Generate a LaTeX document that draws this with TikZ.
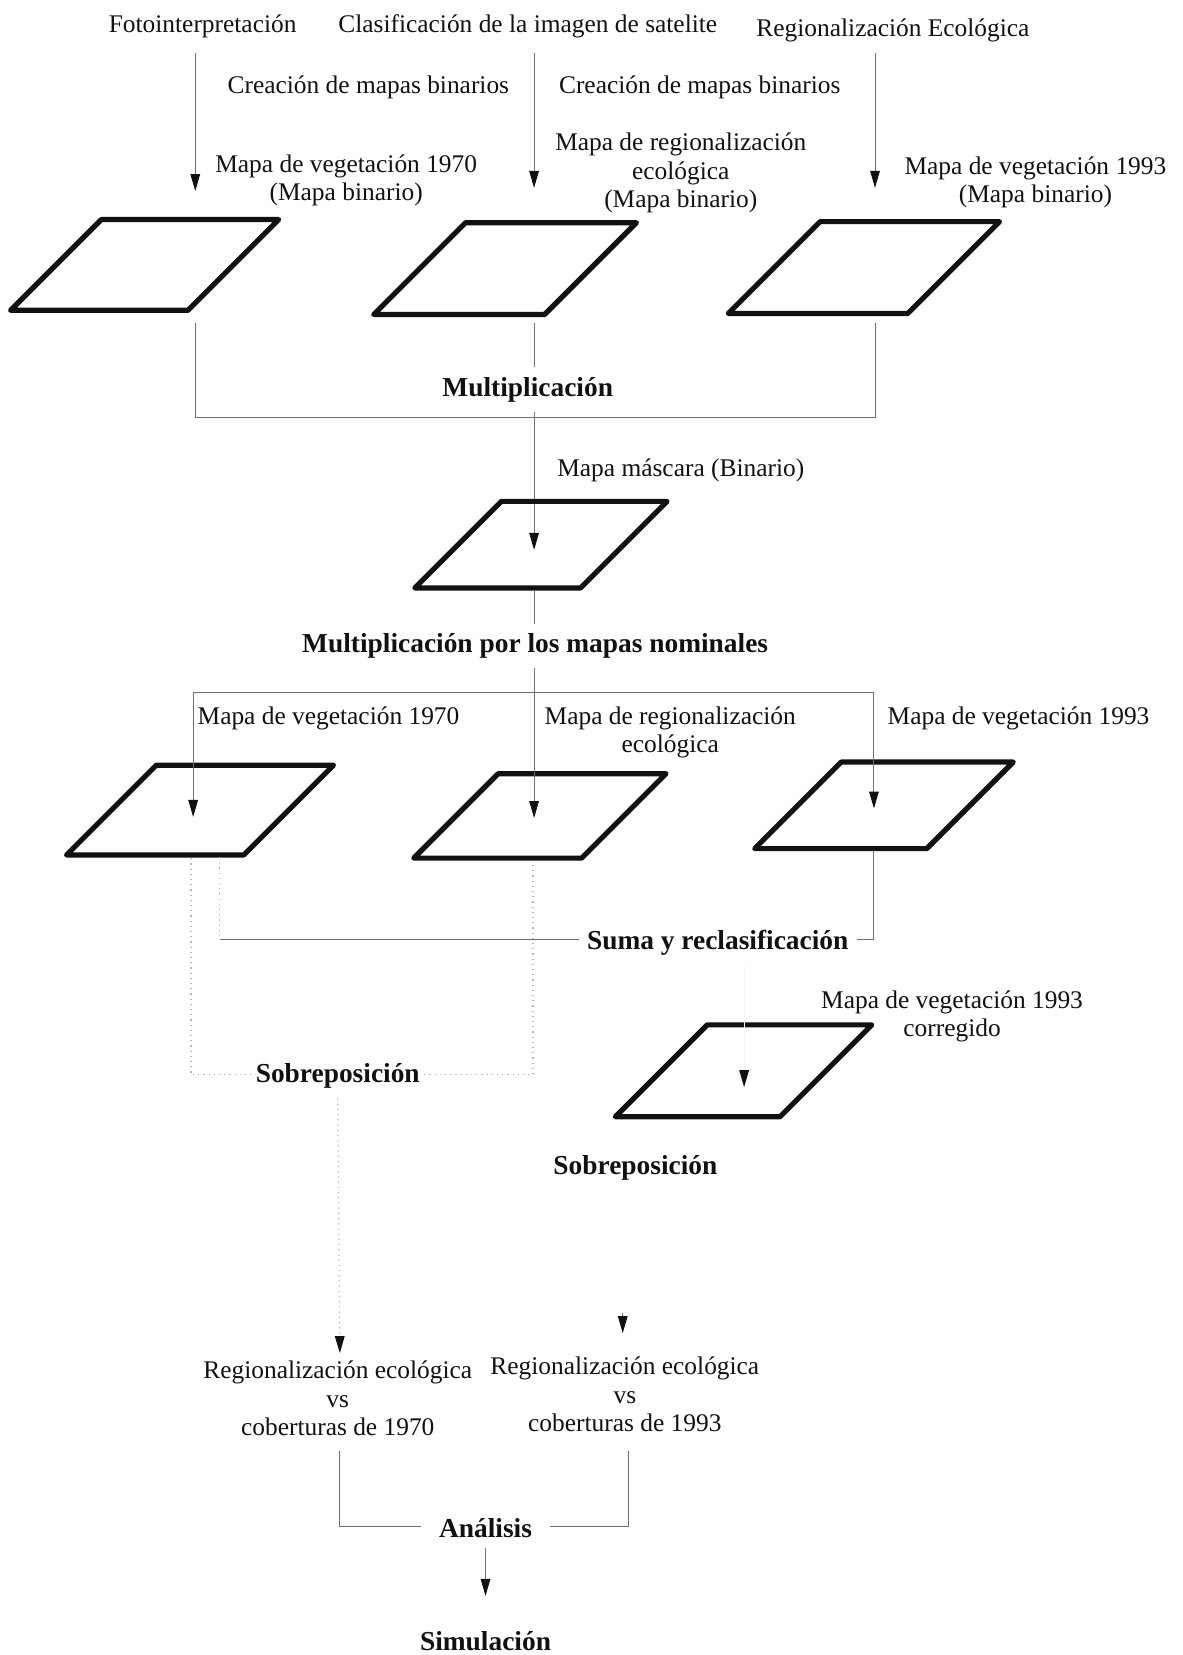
\documentclass[tikz,border=0pt]{standalone}
\usepackage{fontspec}
\setmainfont{Liberation Serif}
\usetikzlibrary{arrows.meta,positioning}
\definecolor{ink}{HTML}{111111}
\definecolor{wire}{HTML}{707070}
\definecolor{dots}{HTML}{B4B4B4}

\begin{document}
\begin{tikzpicture}[
  x=0.5277pt, y=-0.5277pt,
  mapaLine/.style={draw=ink, line width=2.6pt, line join=round},
  pics/mapa/.style 2 args={code={
    \draw[mapaLine] (-#1/2-#2/2,#2/2) -- (#1/2-#2/2,#2/2) -- (#1/2+#2/2,-#2/2) -- (-#1/2+#2/2,-#2/2) -- cycle;}},
  lbl/.style={font=\fontsize{12.7}{14.2}\selectfont, text=ink, align=center, inner sep=1pt, yshift=-1.6pt},
  opLbl/.style={font=\fontsize{13.7}{16}\selectfont\bfseries, text=ink, fill=white, inner xsep=2pt, inner ysep=5pt, yshift=-1.6pt},
  arr/.style={-{Triangle[length=8.5pt,width=4.8pt,color=ink]}, line width=0.5pt, color=wire},
  conn/.style={line width=0.5pt, color=wire},
  faint/.style={line width=0.6pt, color=dots, dotted},
]
\useasboundingbox (0,0) rectangle (1120,1568);

% sources
\node[lbl] (foto) at (192,22) {Fotointerpretación};
\node[lbl] (clasif) at (500,22) {Clasificación de la imagen de satelite};
\node[lbl] (regEco) at (846,26) {Regionalización Ecológica};
\node[lbl] (creaA) at (349,80) {Creación de mapas binarios};
\node[lbl] (creaB) at (663,80) {Creación de mapas binarios};

\node[lbl] (veg70b) at (328,168) {Mapa de vegetación 1970\\(Mapa binario)};
\node[lbl] (regB) at (645,161) {Mapa de regionalización\\ecológica\\(Mapa binario)};
\node[lbl] (veg93b) at (981,170) {Mapa de vegetación 1993\\(Mapa binario)};

% binary maps
\coordinate (p1) at (137,251);
\coordinate (p2) at (478.5,254.5);
\coordinate (p3) at (818.5,253.5);
\pic at (p1) {mapa={168}{86}};
\pic at (p2) {mapa={162}{87}};
\pic at (p3) {mapa={170}{87}};

\coordinate (inA) at (185,50);  \coordinate (tipA) at (185,181);
\coordinate (inB) at (506,50);  \coordinate (tipB) at (506,178);
\coordinate (inC) at (829,50);  \coordinate (tipC) at (829,178);
\draw[arr] (inA) -- (tipA);
\draw[arr] (inB) -- (tipB);
\draw[arr] (inC) -- (tipC);

% multiplication
\coordinate (outA) at (185,306); \coordinate (joinA) at (185,396);
\coordinate (outB) at (506,306); \coordinate (joinB) at (506,396);
\coordinate (outC) at (829,306); \coordinate (joinC) at (829,396);
\coordinate (tipM) at (506,521);
\draw[conn] (outA) -- (joinA) -- (joinC) -- (outC);
\draw[conn] (outB) -- (joinB);
\draw[arr] (joinB) -- (tipM);
\node[opLbl] (mult) at (500,366) {Multiplicación};

\node[lbl] (masc) at (645,443) {Mapa máscara (Binario)};
\coordinate (p4) at (512.5,516);
\pic at (p4) {mapa={157}{82}};

% nominal maps
\coordinate (outM) at (506,560);
\coordinate (splitL) at (183,656); \coordinate (splitM) at (506,656); \coordinate (splitR) at (828,656);
\draw[conn] (outM) -- (splitM);
\draw[conn] (splitL) -- (splitR);
\node[opLbl] (multNom) at (507,609) {Multiplicación por los mapas nominales};

\node[lbl, anchor=west] (veg70) at (185,678) {Mapa de vegetación 1970};
\node[lbl] (reg) at (635,691) {Mapa de regionalización\\ecológica};
\node[lbl] (veg93) at (965,678) {Mapa de vegetación 1993};

\coordinate (p5) at (189.5,767.5);
\coordinate (p6) at (511.5,773);
\coordinate (p7) at (837.5,763);
\pic at (p5) {mapa={168}{85}};
\pic at (p6) {mapa={159}{80}};
\pic at (p7) {mapa={163}{82}};

\coordinate (tipL) at (183,774); \coordinate (tipN) at (506,775); \coordinate (tipR) at (828,766);
\draw[arr] (splitL) -- (tipL);
\draw[arr] (splitM) -- (tipN);
\draw[arr] (splitR) -- (tipR);

% sum and overlay
\node[opLbl, inner xsep=4pt] (suma) at (680,890) {Suma y reclasificación};
\coordinate (outL) at (181,813); \coordinate (outL2) at (208,812);
\coordinate (outN) at (505,818); \coordinate (outR) at (828,806);
\coordinate (sumL) at (208,890); \coordinate (sumR) at (828,890);
\draw[faint] (outL2) -- (sumL);
\draw[conn] (sumL) -- (sumL -| suma.west);
\draw[conn] (sumR -| suma.east) -- (sumR) -- (outR);

\node[opLbl, fill=none] (sobreA) at (320,1016) {Sobreposición};
\coordinate (sobL) at (181,1018); \coordinate (sobR) at (505,1018);
\draw[faint] (outL) -- (sobL) -- (sobL -| sobreA.west);
\draw[faint] (sobR -| sobreA.east) -- (sobR) -- (outN);

\node[lbl] (veg93c) at (902,960) {Mapa de vegetación 1993\\corregido};
\coordinate (p8) at (704.5,1014.5);
\pic at (p8) {mapa={156}{87}};
\coordinate (tipS) at (705,1030);
\draw[arr, color=dots!15] (suma.south -| tipS) -- (tipS);

\node[opLbl] (sobreB) at (602,1103) {Sobreposición};

% comparison
\coordinate (tipU) at (322,1282);
\coordinate (stubT) at (590,1244); \coordinate (tipT) at (590,1263);
\draw[arr, faint] (sobreA.south) -- (tipU);
\draw[arr] (stubT) -- (tipT);

\node[lbl] (cob70) at (320,1322) {Regionalización ecológica\\vs\\coberturas de 1970};
\node[lbl] (cob93) at (592,1318) {Regionalización ecológica\\vs\\coberturas de 1993};

\node[opLbl, inner xsep=9pt] (anal) at (460,1445) {Análisis};
\coordinate (c70) at (322,1375); \coordinate (a70) at (322,1446);
\coordinate (c93) at (595,1375); \coordinate (a93) at (595,1446);
\draw[conn] (c70) -- (a70) -- (a70 -| anal.west);
\draw[conn] (a93 -| anal.east) -- (a93) -- (c93);

\node[opLbl, inner ysep=1pt] (simul) at (460,1552) {Simulación};
\coordinate (tipV) at (460,1512);
\draw[arr] (anal.south) -- (tipV);

\end{tikzpicture}
\end{document}
